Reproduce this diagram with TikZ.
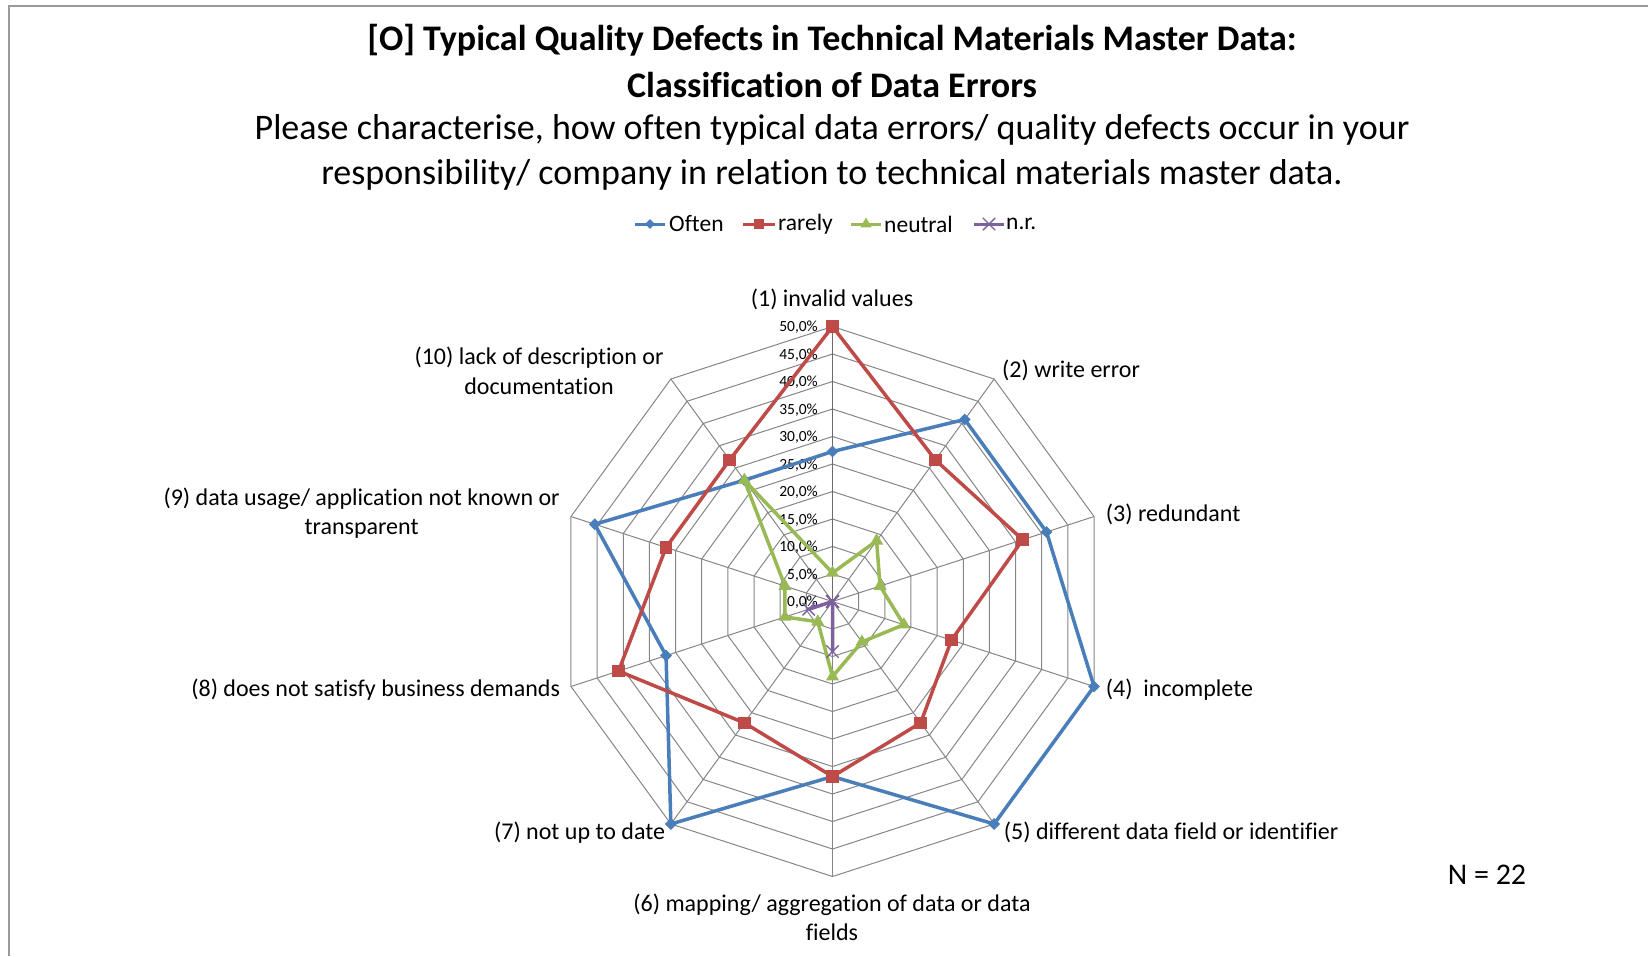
\documentclass[tikz,border=0pt]{standalone}
\usepackage{fontspec}
\setmainfont[Ligatures={NoCommon}]{Carlito}
\usetikzlibrary{shapes.geometric,shapes.misc,calc}
\definecolor{cblue}{HTML}{4A7EBB}
\definecolor{cred}{HTML}{BE4B48}
\definecolor{cgreen}{HTML}{98B954}
\definecolor{cpurple}{HTML}{7D60A0}
\definecolor{cgrid}{HTML}{868686}
\definecolor{cframe}{HTML}{9A9A9A}
\tikzset{
  gridline/.style={draw=cgrid, line width=1pt},
  spoke/.style={draw=cgrid, line width=1pt},
  series/.style={line width=3.5pt, line join=round, line cap=round},
  dmark/.style={diamond, fill=cblue, inner sep=0pt, minimum size=12pt},
  smark/.style={rectangle, fill=cred, inner sep=0pt, minimum size=12.5pt},
  tmark/.style={regular polygon, regular polygon sides=3, fill=cgreen, inner sep=0pt, minimum size=15pt},
  xmark/.style={cross out, draw=cpurple, line width=1.4pt, inner sep=0pt, minimum size=11pt},
  titlefont/.style={font=\fontsize{36}{42}\selectfont\bfseries},
  subfont/.style={font=\fontsize{36}{42}\selectfont},
  axlabel/.style={font=\fontsize{24}{29.5}\selectfont, inner sep=0pt, align=center},
  ticklabel/.style={font=\fontsize{15.5}{18}\selectfont, inner sep=0pt, anchor=east},
  legtext/.style={font=\fontsize{23.5}{27}\selectfont, inner sep=0pt, anchor=west},
}
\begin{document}
\begin{tikzpicture}[x=1pt,y=-1pt]
\useasboundingbox (0,0) rectangle (1648,956);
\draw[cframe, line width=2pt] (9,956) -- (9,6) -- (1648,6);
% titles
\node[titlefont] (t1) at (832,40) {[O] Typical Quality Defects in Technical Materials Master Data:};
\node[titlefont] (t2) at (832,85) {Classification of Data Errors};
\node[subfont] (s1) at (832,130) {Please characterise, how often typical data errors/ quality defects occur in your};
\node[subfont] (s2) at (832,174.5) {responsibility/ company in relation to technical materials master data.};
% legend
\coordinate (la1) at (635,224); \coordinate (lb1) at (665,224);
\coordinate (la2) at (743,224); \coordinate (lb2) at (775,224);
\coordinate (la3) at (851,224); \coordinate (lb3) at (881,224);
\coordinate (la4) at (974,224); \coordinate (lb4) at (1004,224);
\draw[series, cblue, line width=3pt, line cap=butt] (la1) -- (lb1);
\node[dmark, minimum size=10pt] (lm1) at ($(la1)!0.5!(lb1)$) {};
\node[legtext] (lt1) at (669,224) {Often};
\draw[series, cred, line width=3pt, line cap=butt] (la2) -- (lb2);
\node[smark, minimum size=10pt] (lm2) at ($(la2)!0.5!(lb2)$) {};
\node[legtext] (lt2) at (778,224) {rarely};
\draw[series, cgreen, line width=3pt, line cap=butt] (la3) -- (lb3);
\node[tmark, minimum size=13pt] (lm3) at ($(la3)!0.5!(lb3)$) {};
\node[legtext] (lt3) at (884,224) {neutral};
\draw[series, cpurple, line width=3pt, line cap=butt] (la4) -- (lb4);
\node[xmark] (lm4) at ($(la4)!0.5!(lb4)$) {};
\node[legtext] (lt4) at (1006,224) {n.r.};
% grid
\coordinate (C) at (832.5,601.5);
\foreach \i in {1,...,10}{
  \draw[gridline] ($(C)+(-90:{27.5*\i})$)
    \foreach \k in {2,...,10}{ -- ($(C)+({36*\k-126}:{27.5*\i})$) } -- cycle;
}
\foreach \k in {1,...,10}{
  \coordinate (ax\k) at ($(C)+({36*\k-126}:275)$);
  \draw[spoke] (C) -- (ax\k);
}
\draw[draw=cgrid!80!black, line width=1.3pt] (C) -- (ax1);
% tick labels
\foreach \i in {0,...,10}{
  \pgfmathtruncatemacro\p{5*\i}
  \node[ticklabel] (tk\i) at (818,{602.5-27.5*\i}) {\p,0\%};
}
% data
\def\often{27.27,40.91,40.91,50,50,31.82,50,31.82,45.45,27.27}
\def\rarely{50,31.82,36.36,22.73,27.27,31.82,27.27,40.91,31.82,31.82}
\def\neutral{5.2,13.64,9.09,13.64,9.09,13.64,4.55,9.09,9.09,27.27}
\def\nr{0,0,0,0,0,9.09,0,4.55,0,0}
\foreach \v [count=\k] in \often {\coordinate (o\k) at ($(C)+({36*\k-126}:{5.5*\v})$);}
\foreach \v [count=\k] in \rarely {\coordinate (r\k) at ($(C)+({36*\k-126}:{5.5*\v})$);}
\foreach \v [count=\k] in \neutral {\coordinate (n\k) at ($(C)+({36*\k-126}:{5.5*\v})$);}
\foreach \v [count=\k] in \nr {\coordinate (p\k) at ($(C)+({36*\k-126}:{5.5*\v})$);}
\draw[series, cblue] (o1) -- (o2) -- (o3) -- (o4) -- (o5) -- (o6) -- (o7) -- (o8) -- (o9) -- (o10) -- cycle;
\foreach \k in {1,...,10}{\node[dmark] (om\k) at (o\k) {};}
\draw[series, cred] (r1) -- (r2) -- (r3) -- (r4) -- (r5) -- (r6) -- (r7) -- (r8) -- (r9) -- (r10) -- cycle;
\foreach \k in {1,...,10}{\node[smark] (rm\k) at (r\k) {};}
\draw[series, cgreen] (n1) -- (n2) -- (n3) -- (n4) -- (n5) -- (n6) -- (n7) -- (n8) -- (n9) -- (n10) -- cycle;
\foreach \k in {1,...,10}{\node[tmark] (nm\k) at (n\k) {};}
\draw[series, cpurple] (p1) -- (p2) -- (p3) -- (p4) -- (p5) -- (p6) -- (p7) -- (p8) -- (p9) -- (p10) -- cycle;
\foreach \k in {1,...,10}{\node[xmark] (pm\k) at (p\k) {};}
% axis labels
\node[axlabel] (a1) at (832,299.5) {(1) invalid values};
\node[axlabel, anchor=west] (a2) at (1002,370) {(2) write error};
\node[axlabel, anchor=west] (a3) at (1105.7,514) {(3) redundant};
\node[axlabel, anchor=west] (a4) at (1105.7,689.5) {(4)\ \ incomplete};
\node[axlabel, anchor=west] (a5) at (1003.7,832.4) {(5) different data field or identifier};
\node[axlabel] (a6) at (832,917.5) {(6) mapping/ aggregation of data or data\\fields};
\node[axlabel, anchor=east] (a7) at (665.3,832.4) {(7) not up to date};
\node[axlabel, anchor=east] (a8) at (560.2,689.5) {(8) does not satisfy business demands};
\node[axlabel] (a9) at (361.6,513) {(9) data usage/ application not known or\\transparent};
\node[axlabel] (a10) at (539,371) {(10) lack of description or\\documentation};
\node[font=\fontsize{30}{34}\selectfont] (N) at (1487,874.5) {N = 22};
\end{tikzpicture}
\end{document}
